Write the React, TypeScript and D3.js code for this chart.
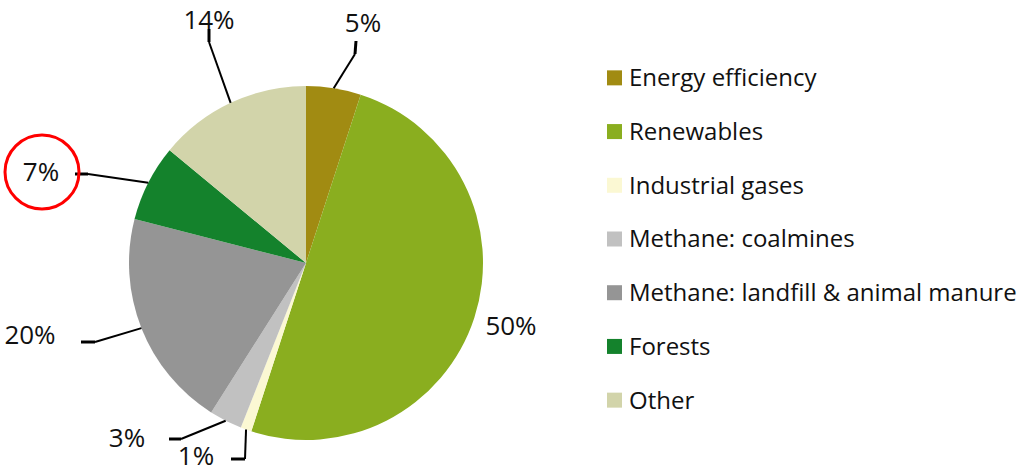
import React from "react";
import * as d3 from "d3";

const categories = [
  "Energy efficiency",
  "Renewables",
  "Industrial gases",
  "Methane: coalmines",
  "Methane: landfill & animal manure",
  "Forests",
  "Other",
];
const values = [5, 50, 1, 3, 20, 7, 14];
const colors = ["#A18B12", "#8AAE1F", "#FBF8D3", "#C1C1C1", "#959595", "#14822C", "#D2D4AA"];

// label layout: text anchor point + leader elbow/end (null = no leader)
const labelLayout: { tx: number; ty: number; anchor: string; elbow: [number, number] | null; end: [number, number] | null }[] = [
  { tx: 363, ty: 32, anchor: "middle", elbow: [355, 54], end: [356, 41] },
  { tx: 511, ty: 335, anchor: "middle", elbow: null, end: null },
  { tx: 196, ty: 465, anchor: "middle", elbow: [245, 459], end: [231, 459] },
  { tx: 127, ty: 447, anchor: "middle", elbow: [181, 439], end: [169, 439] },
  { tx: 30, ty: 344, anchor: "middle", elbow: [95, 342], end: [81, 342] },
  { tx: 41, ty: 181, anchor: "middle", elbow: [88, 174], end: [75, 174] },
  { tx: 209, ty: 29, anchor: "middle", elbow: [209, 42], end: [209, 29] },
];

const W = 1017;
const H = 473;
const cx = 306;
const cy = 263;
const R = 177;
const FONT = "'Open Sans', sans-serif";

export default function App() {
  const pie = d3.pie<number>().sort(null).value((d) => d)(values);
  const arc = d3.arc<d3.PieArcDatum<number>>().innerRadius(0).outerRadius(R);
  const total = d3.sum(values);
  const legendY = d3.scaleBand<number>().domain(d3.range(categories.length)).range([51, 427]);

  return (
    <svg width={W} height={H} style={{ position: "absolute", left: 0, top: 0, background: "#fff" }}>
      <g transform={`translate(${cx},${cy})`}>
        {pie.map((p, i) => (
          <path key={i} d={arc(p) || ""} fill={colors[i]} />
        ))}
      </g>
      {pie.map((p, i) => {
        const L = labelLayout[i];
        const mid = (p.startAngle + p.endAngle) / 2;
        const sx = cx + R * Math.sin(mid);
        const sy = cy - R * Math.cos(mid);
        return (
          <g key={i}>
            {L.elbow && L.end && (
              <>
                <line x1={sx} y1={sy} x2={L.elbow[0]} y2={L.elbow[1]} stroke="#000" strokeWidth={2} />
                <line x1={L.elbow[0]} y1={L.elbow[1]} x2={L.end[0]} y2={L.end[1]} stroke="#000" strokeWidth={3} />
              </>
            )}
            <text x={L.tx} y={L.ty} textAnchor={L.anchor} fontFamily={FONT} fontSize={26} fill="#111">
              {`${Math.round((values[i] / total) * 100)}%`}
            </text>
          </g>
        );
      })}
      {categories.map((c, i) => {
        const y = (legendY(i) as number) + legendY.bandwidth() / 2;
        return (
          <g key={c}>
            <rect x={607} y={y - 7.5} width={15} height={15} fill={colors[i]} />
            <text x={629} y={y} dy="0.35em" fontFamily={FONT} fontSize={24} fill="#111">
              {c}
            </text>
          </g>
        );
      })}
      <circle cx={42} cy={172} r={37} fill="none" stroke="#F00" strokeWidth={3} />
    </svg>
  );
}
